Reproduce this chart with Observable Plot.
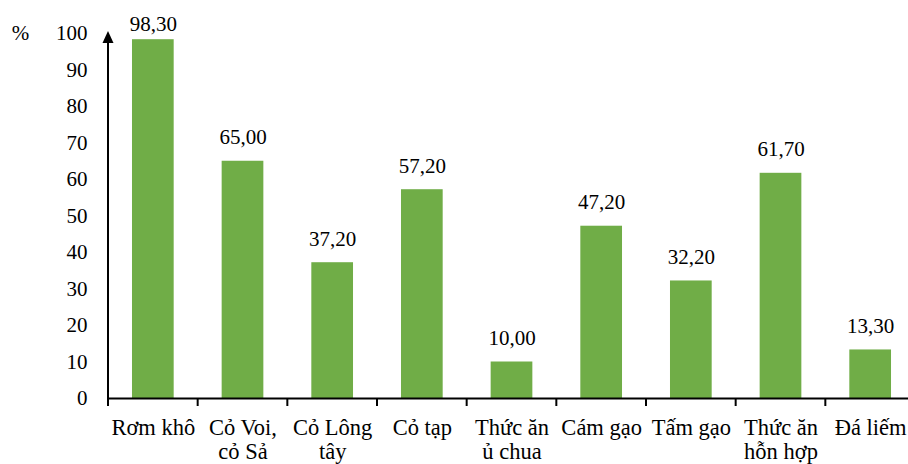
<!DOCTYPE html>
<html>
<head>
<meta charset="utf-8">
<script src="https://cdn.jsdelivr.net/npm/d3@7"></script>
<script src="https://cdn.jsdelivr.net/npm/@observablehq/plot@0.6"></script>
<style>
  html, body { margin: 0; padding: 0; background: white; overflow: hidden; }
  svg text { font-family: 'Liberation Serif', 'Times New Roman', serif; }
</style>
</head>
<body>
<div id="chart"></div>
<script>
const categories = ["Rơm khô", "Cỏ Voi,\ncỏ Sả", "Cỏ Lông\ntây", "Cỏ tạp", "Thức ăn\nủ chua", "Cám gạo", "Tấm gạo", "Thức ăn\nhỗn hợp", "Đá liếm"];
const values = [98.3, 65.0, 37.2, 57.2, 10.0, 47.2, 32.2, 61.7, 13.3];
const yTicks = [0, 10, 20, 30, 40, 50, 60, 70, 80, 90, 100];
const yUnit = "%";

const data = categories.map((c, i) => ({cat: c, value: values[i]}));
const fmt = v => d3.format(".2f")(v).replace(".", ",");
const font = "'Liberation Serif', 'Times New Roman', serif";
const green = "#70AD47";

const chart = Plot.plot({
  width: 908,
  height: 464,
  marginLeft: 108,
  marginRight: 0,
  marginTop: 33,
  marginBottom: 66,
  style: {fontFamily: font, fontSize: "21px", color: "black", background: "white", overflow: "visible"},
  x: {domain: categories, range: [108, 915], paddingInner: 0.535, paddingOuter: 0.2675, round: false},
  y: {domain: [0, 100], range: [398, 33]},
  marks: [
    Plot.barY(data, {x: "cat", y: "value", fill: green}),
    Plot.ruleY([0], {stroke: "black", strokeWidth: 2}),
    Plot.axisY({ticks: yTicks, tickSize: 0, tickPadding: 21, fontSize: 21, fill: "black", label: null}),
    Plot.axisX({tickSize: 0, tickPadding: 19, fontSize: 22.5, lineHeight: 1.07, fill: "black", label: null}),
    Plot.text(data, {x: "cat", y: d => Math.min(d.value, 95.9), text: d => fmt(d.value), lineAnchor: "bottom", dy: -17, fontSize: 21, fill: "black"}),
    Plot.text([yUnit], {frameAnchor: "top-left", text: d => d, dx: -88, lineAnchor: "middle", textAnchor: "middle", fontSize: 21, fill: "black"})
  ]
});

document.getElementById("chart").appendChild(chart);

// Axis decorations derived from the chart's own scales
const xs = chart.scale("x");
const ys = chart.scale("y");
const step = xs.step ?? (xs.range[1] - xs.range[0]) / xs.domain.length;
const bw = xs.bandwidth ?? step * (1 - 0.535);
const y0 = ys.apply(0);
const yTop = ys.apply(100);
const xLeft = xs.range[0];
const svg = d3.select(chart);
const g = svg.append("g").attr("stroke", "black").attr("stroke-width", 2);
// category separator ticks below the x axis
xs.domain.forEach((c, i) => {
  if (i === 0) return;
  const bx = xs.apply(c) - (step - bw) / 2;
  g.append("line").attr("x1", bx).attr("x2", bx).attr("y1", y0).attr("y2", y0 + 8);
});
// y axis line with arrow
g.append("line").attr("x1", xLeft).attr("x2", xLeft).attr("y1", y0 + 8).attr("y2", yTop + 8);
svg.append("path")
  .attr("d", `M${xLeft},${yTop - 2}L${xLeft - 5.5},${yTop + 10}L${xLeft + 5.5},${yTop + 10}Z`)
  .attr("fill", "black");
</script>
</body>
</html>
